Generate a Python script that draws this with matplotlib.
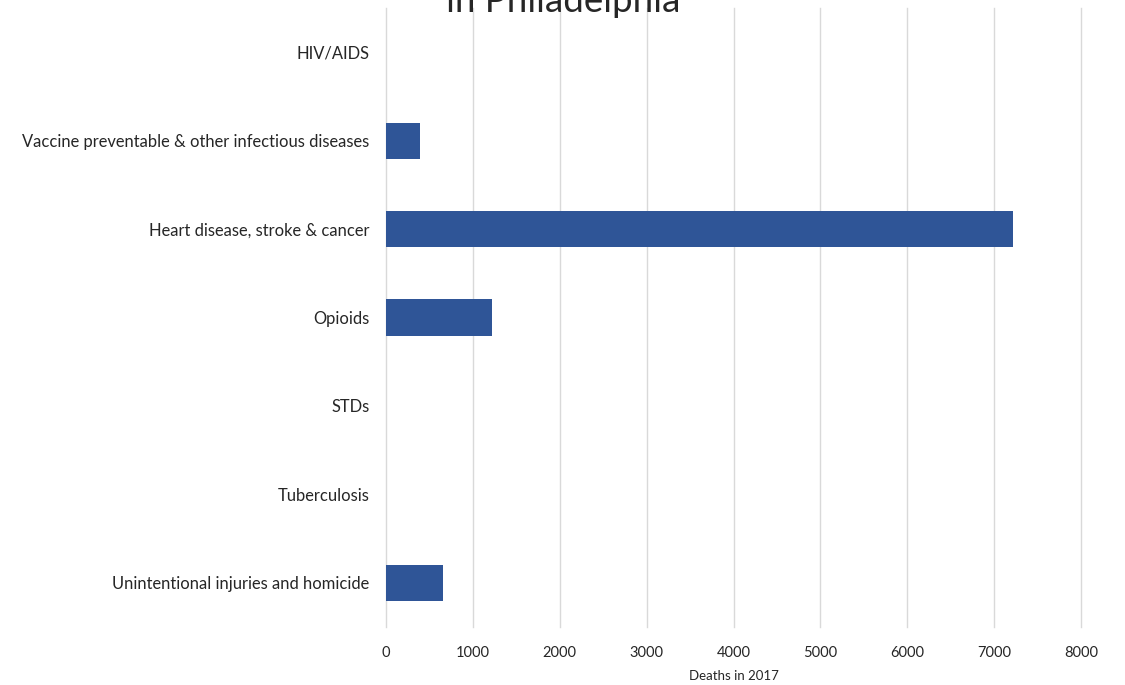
import numpy as np
import matplotlib.pyplot as plt

plt.rcParams['font.family'] = ['Lato', 'DejaVu Sans']

causes = [
    "HIV/AIDS",
    "Vaccine preventable & other infectious diseases",
    "Heart disease, stroke & cancer",
    "Opioids",
    "STDs",
    "Tuberculosis",
    "Unintentional injuries and homicide",
]
deaths = [0, 390, 7215, 1220, 0, 0, 656]
xticks = [0, 1000, 2000, 3000, 4000, 5000, 6000, 7000, 8000]

fig = plt.figure(figsize=(11.25, 6.85), dpi=100)
ax = fig.add_axes([0.3431, 0.0847, 0.6178, 0.9036])

y = np.arange(len(causes))
ax.barh(y, deaths, height=0.41, color="#2F5597", linewidth=0, zorder=3)
ax.set_ylim(len(causes) - 0.5, -0.5)
ax.set_xlim(0, 8000)
ax.set_xticks(xticks)
ax.set_yticks(y)
ax.set_yticklabels(causes, fontsize=11.9, color="#262626")
ax.tick_params(axis="x", labelsize=10.5, colors="#262626", length=0, pad=14)
ax.tick_params(axis="y", length=0, pad=12)
ax.grid(axis="x", color="#d9d9d9", linewidth=1, zorder=0)
for line in ax.get_xgridlines():
    line.set_clip_on(False)
for s in ax.spines.values():
    s.set_visible(False)
ax.set_xlabel("Deaths in 2017", fontsize=9.5, color="#262626", labelpad=7)

fig.text(563 / 1125, 1 - 12 / 685, "in Philadelphia", fontsize=26.5, color="#262626",
         ha="center", va="baseline")

fig.savefig("out.png", dpi=100)
